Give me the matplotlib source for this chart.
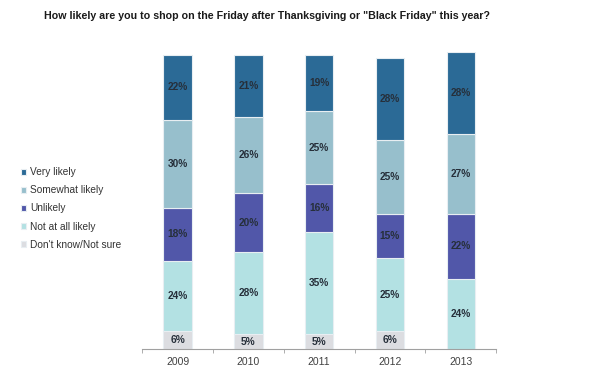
import numpy as np
import matplotlib.pyplot as plt

years = ["2009", "2010", "2011", "2012", "2013"]
dont_know = [6, 5, 5, 6, 0]
not_at_all = [24, 28, 35, 25, 24]
unlikely = [18, 20, 16, 15, 22]
somewhat = [30, 26, 25, 25, 27]
very = [22, 21, 19, 28, 28]

series = [
    ("Don't know/Not sure", dont_know, "#dcdde1"),
    ("Not at all likely", not_at_all, "#b3e1e3"),
    ("Unlikely", unlikely, "#5157a9"),
    ("Somewhat likely", somewhat, "#97bfcc"),
    ("Very likely", very, "#2b6a96"),
]

plt.rcParams["font.family"] = ["Liberation Sans", "DejaVu Sans"]

fig = plt.figure(figsize=(6, 3.75), dpi=100)
ax = fig.add_axes([0.237, 0.069, 0.59, 0.792])

x = np.arange(len(years))
bottom = np.zeros(len(years))
handles = {}
for name, vals, color in series:
    vals = np.array(vals, dtype=float)
    bars = ax.bar(x, vals, 0.4, bottom=bottom, color=color,
                  edgecolor="#e8eef2", linewidth=0.8, label=name)
    handles[name] = bars
    for xi, b, v in zip(x, bottom, vals):
        if v > 0:
            ax.text(xi, b + v / 2, f"{int(v)}%", ha="center", va="center",
                    fontsize=7.3, fontweight="bold", color="#262f3a")
    bottom += vals

ax.set_xlim(-0.5, 4.5)
ax.set_ylim(0, 101)
ax.set_yticks([])
for s in ["top", "right", "left"]:
    ax.spines[s].set_visible(False)
ax.spines["bottom"].set_color("#a0a0a0")
ax.set_xticks(x)
ax.set_xticklabels(years, fontsize=7.5, color="#404040")
ax.tick_params(axis="x", which="major", length=0, pad=6)
ax.set_xticks(np.arange(-0.5, 5, 1), minor=True)
ax.tick_params(axis="x", which="minor", length=3, color="#a0a0a0")

order = ["Very likely", "Somewhat likely", "Unlikely", "Not at all likely",
         "Don't know/Not sure"]
leg = fig.legend([handles[n] for n in order], order, loc="upper left",
                 bbox_to_anchor=(0.028, 0.565), frameon=False, fontsize=7.3,
                 handlelength=0.55, handleheight=0.55, handletextpad=0.35,
                 labelspacing=0.8, labelcolor="#333333", borderaxespad=0)

fig.text(0.445, 0.958, "How likely are you to shop on the Friday after Thanksgiving or \"Black Friday\" this year?",
         ha="center", va="center", fontsize=7.7, fontweight="bold", color="#1a1a1a")

fig.savefig("out.png", dpi=100)
